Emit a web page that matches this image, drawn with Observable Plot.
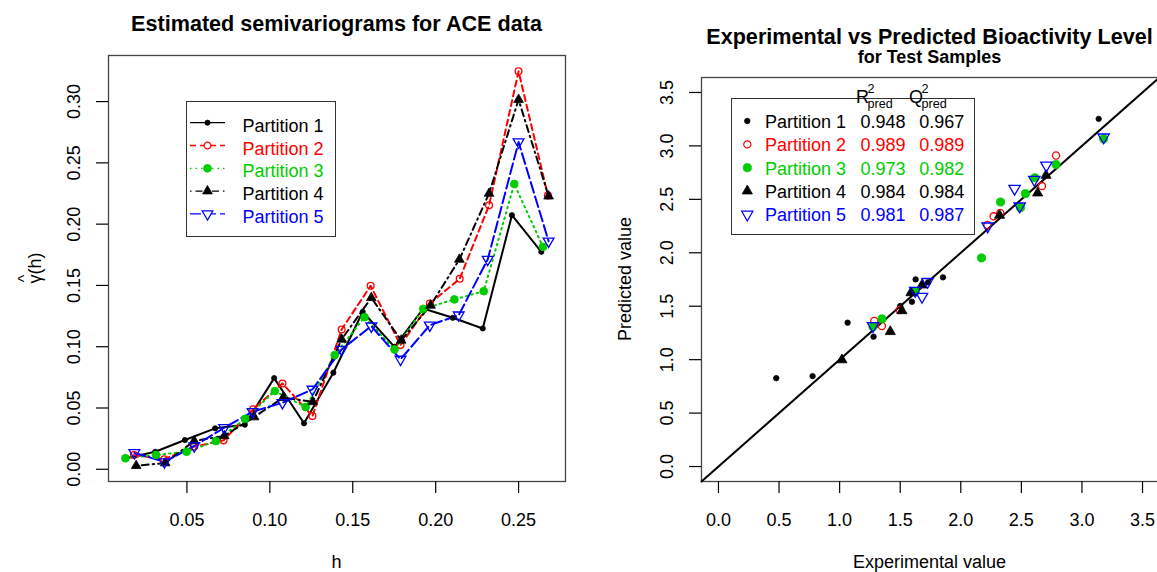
<!DOCTYPE html>
<html>
<head>
<meta charset="utf-8">
<script src="https://cdn.jsdelivr.net/npm/d3@7"></script>
<script src="https://cdn.jsdelivr.net/npm/@observablehq/plot@0.6"></script>
<style>
  html, body { margin: 0; padding: 0; background: #fff; }
  #root { position: relative; width: 1157px; height: 572px; overflow: hidden; background: #fff;
          font-family: "Liberation Sans", Arial, Helvetica, sans-serif; color: #000; }
  .abs { position: absolute; white-space: nowrap; line-height: 1; }
  .box { position: absolute; border: 1px solid #333; box-sizing: border-box; }
  svg.panel { position: absolute; top: 0; }
</style>
</head>
<body>
<div id="root"></div>
<script>
// ---------------- Panel 1: estimated semivariograms ----------------
const seriesNames  = ["Partition 1", "Partition 2", "Partition 3", "Partition 4", "Partition 5"];
const seriesColors = ["#000000", "#FF0000", "#00CD00", "#000000", "#0000FF"];
const seriesDash   = ["none", "6,4", "1.5,4", "1.5,4,7,4", "11,4"];

const lag1 = [0.0133,0.0309,0.0488,0.0670,0.0849,0.1026,0.1206,0.1383,0.1560,0.1752,0.1925,0.2103,0.2284,0.2460,0.2637];
const gam1 = [0.0090,0.0143,0.0239,0.0334,0.0364,0.0744,0.0375,0.0788,0.1285,0.0999,0.1312,0.1236,0.1149,0.2073,0.1774];
const lag2 = [0.0181,0.0364,0.0544,0.0721,0.0899,0.1076,0.1257,0.1433,0.1608,0.1788,0.1965,0.2145,0.2322,0.2500,0.2677];
const gam2 = [0.0117,0.0082,0.0185,0.0236,0.0489,0.0700,0.0434,0.1141,0.1497,0.1013,0.1353,0.1554,0.2154,0.3247,0.2233];
const lag3 = [0.0129,0.0314,0.0498,0.0675,0.0851,0.1030,0.1216,0.1391,0.1571,0.1752,0.1925,0.2113,0.2290,0.2474,0.2647];
const gam3 = [0.0090,0.0117,0.0143,0.0230,0.0412,0.0638,0.0508,0.0932,0.1241,0.0978,0.1309,0.1386,0.1453,0.2328,0.1815];
const lag4 = [0.0194,0.0369,0.0544,0.0725,0.0905,0.1080,0.1259,0.1433,0.1612,0.1792,0.1969,0.2143,0.2322,0.2500,0.2681];
const gam4 = [0.0029,0.0051,0.0231,0.0272,0.0426,0.0584,0.0550,0.1060,0.1399,0.1052,0.1337,0.1712,0.2250,0.3016,0.2228];
const lag5 = [0.0183,0.0364,0.0544,0.0725,0.0896,0.1076,0.1257,0.1433,0.1612,0.1788,0.1965,0.2139,0.2314,0.2500,0.2681];
const gam5 = [0.0135,0.0060,0.0190,0.0339,0.0470,0.0543,0.0652,0.0978,0.1168,0.0897,0.1176,0.1258,0.1712,0.2670,0.1861];

const lagTicks   = [0.05, 0.10, 0.15, 0.20, 0.25];
const gammaTicks = [0.00, 0.05, 0.10, 0.15, 0.20, 0.25, 0.30];

// ---------------- Panel 2: experimental vs predicted ----------------
const exp1  = [0.477,0.777,1.066,1.280,1.500,1.597,1.627,1.730,1.853,3.138];
const pred1 = [0.827,0.846,1.346,1.215,1.502,1.542,1.751,1.723,1.770,3.253];
const exp2  = [1.286,1.349,1.495,2.220,2.271,2.326,2.670,2.786];
const pred2 = [1.362,1.315,1.465,2.260,2.341,2.372,2.624,2.910];
const exp3  = [1.275,1.349,1.624,2.171,2.328,2.493,2.533,2.610,2.786,3.179];
const pred3 = [1.309,1.381,1.635,1.952,2.475,2.422,2.553,2.702,2.826,3.066];
const exp4  = [1.019,1.418,1.514,1.589,1.680,2.320,2.634,2.703];
const pred4 = [0.998,1.262,1.458,1.626,1.698,2.351,2.559,2.724];
const exp5  = [1.275,1.624,1.680,1.726,2.221,2.444,2.486,2.607,2.706,3.179];
const pred5 = [1.315,1.645,1.589,1.729,2.248,2.600,2.435,2.684,2.817,3.081];

const valueTicks = [0, 0.5, 1, 1.5, 2, 2.5, 3, 3.5];
const valueLimits = [-0.14, 3.64];
const r2pred = ["0.948", "0.989", "0.973", "0.984", "0.981"];
const q2pred = ["0.967", "0.989", "0.982", "0.984", "0.987"];

// ---------------- helpers ----------------
const FONT = '"Liberation Sans", Arial, Helvetica, sans-serif';
const root = document.getElementById("root");

const triangleDown = {
  draw(context, size) {
    const s3 = Math.sqrt(3);
    const y = -Math.sqrt(size / (s3 * 3));
    context.moveTo(0, -y * 2);
    context.lineTo(-s3 * y, y);
    context.lineTo(s3 * y, y);
    context.closePath();
  }
};
// pch 20, 1, 16, 17, 6
const markers = [
  {symbol: "circle",     filled: true,  r: 2.6},
  {symbol: "circle",     filled: false, r: 3.4},
  {symbol: "circle",     filled: true,  r: 3.9},
  {symbol: "triangle",   filled: true,  r: 3.6},
  {symbol: triangleDown, filled: false, r: 4.0}
];

function zipRows(xs, ys, i) { return xs.map((x, k) => ({x, y: ys[k], s: i})); }

const semivar = [[lag1,gam1],[lag2,gam2],[lag3,gam3],[lag4,gam4],[lag5,gam5]].map(([a,b], i) => zipRows(a, b, i));
const scatter = [[exp1,pred1],[exp2,pred2],[exp3,pred3],[exp4,pred4],[exp5,pred5]].map(([a,b], i) => zipRows(a, b, i));

function dotMark(data, i, scale = 1) {
  const m = markers[i];
  return Plot.dot(data, {
    x: "x", y: "y", symbol: m.symbol, r: m.r * scale,
    fill: m.filled ? seriesColors[i] : "none",
    stroke: seriesColors[i], strokeWidth: m.filled ? 0.8 : 1.3
  });
}

const baseStyle = {fontFamily: FONT, fontSize: "18px", background: "transparent", color: "#000", overflow: "visible"};

// ---------------- left plot ----------------
const left = Plot.plot({
  width: 580, height: 572,
  marginLeft: 108, marginRight: 15, marginTop: 55, marginBottom: 91,
  style: baseStyle,
  x: {domain: [0.0027, 0.2783]},
  y: {domain: [-0.00997, 0.3376]},
  marks: [
    Plot.frame({stroke: "#444", strokeWidth: 1.3}),
    Plot.axisX({ticks: lagTicks, tickFormat: d3.format(".2f"), tickSize: 12, tickPadding: 20, label: null, strokeWidth: 1.2}),
    Plot.axisY({ticks: gammaTicks, tickFormat: d3.format(".2f"), tickSize: 12, tickPadding: 17, tickRotate: -90, label: null, strokeWidth: 1.2}),
    ...semivar.map((d, i) => Plot.line(d, {x: "x", y: "y", stroke: seriesColors[i], strokeWidth: 2, strokeDasharray: seriesDash[i]})),
    ...semivar.map((d, i) => dotMark(d, i, 1))
  ]
});
left.classList.add("panel");
left.style.left = "0px";
root.appendChild(left);

// ---------------- right plot ----------------
const right = Plot.plot({
  width: 600, height: 572,
  marginLeft: 121, marginRight: 21, marginTop: 77, marginBottom: 91,
  style: baseStyle,
  x: {domain: valueLimits},
  y: {domain: valueLimits},
  marks: [
    Plot.frame({stroke: "#444", strokeWidth: 1.3}),
    Plot.axisX({ticks: valueTicks, tickFormat: d3.format(".1f"), tickSize: 12, tickPadding: 20, label: null, strokeWidth: 1.2}),
    Plot.axisY({ticks: valueTicks, tickFormat: d3.format(".1f"), tickSize: 12, tickPadding: 17, tickRotate: -90, label: null, strokeWidth: 1.2}),
    Plot.line(valueLimits.map(v => ({v})), {x: "v", y: "v", stroke: "#000", strokeWidth: 2}),
    ...scatter.map((d, i) => dotMark(d, i, 1.05))
  ]
});
right.classList.add("panel");
right.style.left = "580px";
root.appendChild(right);

// ---------------- text ----------------
function label(html, x, y, {size = 18, weight = 400, color = "#000", rotate = 0, align = "center"} = {}) {
  const d = document.createElement("div");
  d.className = "abs";
  d.innerHTML = html;
  d.style.left = x + "px";
  d.style.top = y + "px";
  d.style.fontSize = size + "px";
  d.style.fontWeight = weight;
  d.style.color = color;
  const tx = align === "center" ? "-50%" : "0";
  d.style.transform = `translate(${tx},-50%)` + (rotate ? ` rotate(${rotate}deg)` : "");
  root.appendChild(d);
  return d;
}

label("Estimated semivariograms for ACE data", 336.5, 24, {size: 21.6, weight: 700});
label("Experimental vs Predicted Bioactivity Level", 929.5, 37, {size: 21.6, weight: 700});
label("for Test Samples", 929.5, 57, {size: 18, weight: 700});
label("h", 336.5, 562);
label("Experimental value", 929.5, 562);
label("Predicted value", 625, 279, {rotate: -90});
label('<span style="position:relative;display:inline-block">γ<span style="position:absolute;left:0.08em;top:-0.62em;font-size:0.9em">^</span></span>(h)', 35, 268, {rotate: -90});

// legend boxes
function box(x, y, w, h) {
  const b = document.createElement("div");
  b.className = "box";
  Object.assign(b.style, {left: x + "px", top: y + "px", width: w + "px", height: h + "px", background: "#fff"});
  root.appendChild(b);
}
box(186, 100.5, 149.5, 136.5);
box(730.5, 97.5, 244, 137.5);

// legend symbols overlay
const overlay = d3.create("svg")
  .attr("width", 1157).attr("height", 572)
  .style("position", "absolute").style("left", "0px").style("top", "0px").style("pointer-events", "none");

function symbolPath(i, scale) {
  const m = markers[i];
  const type = m.symbol === "circle" ? d3.symbolCircle : m.symbol === "triangle" ? d3.symbolTriangle : m.symbol;
  const r = m.r * scale;
  return d3.symbol(type, Math.PI * r * r)();
}

// left legend
const leftRowY = [122.7, 145.5, 168.3, 191.1, 213.9];
seriesNames.forEach((name, i) => {
  const y = leftRowY[i];
  overlay.append("line").attr("x1", 190).attr("x2", 225).attr("y1", y).attr("y2", y)
    .attr("stroke", seriesColors[i]).attr("stroke-width", 1.3)
    .attr("stroke-dasharray", seriesDash[i] === "none" ? null : seriesDash[i]);
  const m = markers[i];
  overlay.append("path").attr("d", symbolPath(i, 1)).attr("transform", `translate(207.5,${y})`)
    .attr("fill", m.filled ? seriesColors[i] : "#fff").attr("stroke", seriesColors[i])
    .attr("stroke-width", m.filled ? 0.8 : 1.2);
  label(name, 242.5, y + 3, {color: seriesColors[i], align: "left"});
});

// right legend
const rightRowBase = [128.3, 151.7, 175.0, 198.3, 221.7];
seriesNames.forEach((name, i) => {
  const yb = rightRowBase[i];
  const m = markers[i];
  overlay.append("path").attr("d", symbolPath(i, 1.05)).attr("transform", `translate(747.3,${yb - 7.3})`)
    .attr("fill", m.filled ? seriesColors[i] : "#fff").attr("stroke", seriesColors[i])
    .attr("stroke-width", m.filled ? 0.8 : 1.2);
  label(name, 765, yb - 6.4, {color: seriesColors[i], align: "left"});
  label(r2pred[i], 860.5, yb - 6.4, {color: seriesColors[i], align: "left"});
  label(q2pred[i], 919.3, yb - 6.4, {color: seriesColors[i], align: "left"});
});
root.appendChild(overlay.node());

// column headers R^2_pred, Q^2_pred
function header(letter, x) {
  label(letter, x, 96.5, {align: "left"});
  const w = letter === "R" ? 11.5 : 12.5;
  label("2", x + w, 88.5, {size: 12.6, align: "left"});
  label("pred", x + w, 103.5, {size: 12.6, align: "left"});
}
header("R", 856);
header("Q", 909);
</script>
</body>
</html>
